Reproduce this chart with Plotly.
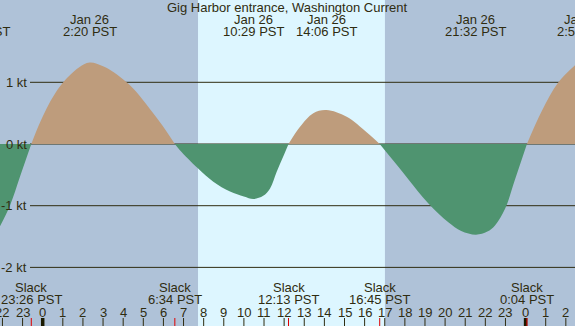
import plotly.graph_objects as go

# ---------------- data ----------------
TITLE = "Gig Harbor entrance, Washington Current"
# hours relative to Jan 26 00:00 PST, current speed in knots (+ flood, - ebb)
times = [-2.15, -1.63, -1.13, -0.567,
         -0.2, 0.2, 0.6, 1.02, 1.4, 1.8, 2.333, 3.0, 3.55, 4.17, 4.67, 5.3, 5.95, 6.567,
         6.82, 7.7, 8.48, 9.31, 10.0, 10.483, 10.96, 11.3, 11.63, 11.96, 12.217,
         12.79, 13.45, 14.1, 15.11, 16.1, 16.75,
         17.35, 18.17, 19.16, 20.16, 20.8, 21.533, 22.1, 22.48, 22.98, 23.47, 24.067,
         24.8, 25.63, 26.5]
speeds = [-1.35, -1.0, -0.53, 0.0,
          0.30, 0.58, 0.81, 1.0, 1.13, 1.24, 1.32, 1.26, 1.16, 1.0, 0.84, 0.58, 0.30, 0.0,
          -0.1, -0.39, -0.61, -0.77, -0.85, -0.89, -0.84, -0.72, -0.45, -0.2, 0.0,
          0.28, 0.50, 0.55, 0.44, 0.19, 0.0,
          -0.24, -0.57, -0.96, -1.27, -1.41, -1.47, -1.42, -1.32, -1.05, -0.58, 0.0,
          0.53, 1.0, 1.29]

# extreme-current labels (time in hours, date text, time text)
max_times = [-3.12, 2.333, 10.483, 14.1, 21.533, 26.9]
max_dates = ["Jan 25", "Jan 26", "Jan 26", "Jan 26", "Jan 26", "Jan 27"]
max_texts = ["20:53 PST", "2:20 PST", "10:29 PST", "14:06 PST", "21:32 PST", "2:54 PST"]

slack_times = [-0.567, 6.567, 12.217, 16.75, 24.067]
slack_texts = ["23:26 PST", "6:34 PST", "12:13 PST", "16:45 PST", "0:04 PST"]

sunrise_sunset = [7.72, 17.01]
midnights = [0, 24]
hours = list(range(-2, 27))
ytick_vals = [1, 0, -1, -2]
ytick_text = ["1 kt", "0 kt", "-1 kt", "-2 kt"]

# ---------------- style ----------------
W, H = 575, 326
XMIN, XMAX = -2.122, 26.456
YMIN, YMAX = -2.950, 2.334
NIGHT = "#AFC2D8"
DAY = "#DDF6FF"
FLOOD = "#BE9C7C"
EBB = "#4F9470"
INK = "#2f2c10"
FONT = "Liberation Sans, Arial, sans-serif"

def px2paper_x(px):
    return px / W

def px2paper_y(py):  # py measured from top
    return 1 - py / H

def t2paper(t):
    return (t - XMIN) / (XMAX - XMIN)

fig = go.Figure()

# split curve into flood/ebb segments at slack points
segments = []
cur_t, cur_v, cur_sign = [], [], 0
for t, v in zip(times, speeds):
    s = (v > 0) - (v < 0)
    if s == 0:
        cur_t.append(t); cur_v.append(v)
        segments.append((cur_sign, cur_t, cur_v))
        cur_t, cur_v, cur_sign = [t], [v], 0
    else:
        if cur_sign == 0:
            cur_sign = s
        cur_t.append(t); cur_v.append(v)
if len(cur_t) > 1:
    segments.append((cur_sign, cur_t, cur_v))

for sign, st, sv in segments:
    if sign == 0 or len(st) < 2:
        continue
    col = FLOOD if sign > 0 else EBB
    fig.add_trace(go.Scatter(x=st, y=sv, mode="lines", fill="tozeroy", fillcolor=col,
                             line=dict(width=0, color=col, shape="spline", smoothing=1.0),
                             hoverinfo="skip", showlegend=False))

shapes = []
# daylight
shapes.append(dict(type="rect", xref="x", yref="paper", x0=sunrise_sunset[0], x1=sunrise_sunset[1],
                   y0=0, y1=1, fillcolor=DAY, line=dict(width=0), layer="below"))
# horizontal grid lines
for v in ytick_vals:
    shapes.append(dict(type="line", xref="paper", yref="y", x0=px2paper_x(30), x1=1, y0=v, y1=v,
                       line=dict(color=INK, width=1), layer="below"))
# hour ticks
tick_top = 8 / H
for h in hours:
    shapes.append(dict(type="line", xref="x", yref="paper", x0=h, x1=h, y0=0, y1=tick_top,
                       line=dict(color=INK, width=1)))
for m in midnights:
    shapes.append(dict(type="line", xref="x", yref="paper", x0=m, x1=m, y0=0, y1=tick_top,
                       line=dict(color="#1a1a00", width=3.5)))
for s in slack_times:
    shapes.append(dict(type="line", xref="x", yref="paper", x0=s, x1=s, y0=0, y1=tick_top,
                       line=dict(color="#e00000", width=1)))

ann = []
fnt = dict(family=FONT, size=13, color=INK)
ann.append(dict(text=TITLE, xref="paper", yref="paper", x=0.5, y=px2paper_y(7.5),
                xanchor="center", yanchor="middle", showarrow=False, font=fnt))
for t, d, tx in zip(max_times, max_dates, max_texts):
    ann.append(dict(text=d, xref="paper", yref="paper", x=t2paper(t), y=px2paper_y(20),
                    xanchor="center", yanchor="middle", showarrow=False, font=fnt))
    ann.append(dict(text=tx, xref="paper", yref="paper", x=t2paper(t), y=px2paper_y(31.5),
                    xanchor="center", yanchor="middle", showarrow=False, font=fnt))
for t, tx in zip(slack_times, slack_texts):
    ann.append(dict(text="Slack", xref="paper", yref="paper", x=t2paper(t), y=px2paper_y(287.5),
                    xanchor="center", yanchor="middle", showarrow=False, font=fnt))
    ann.append(dict(text=tx, xref="paper", yref="paper", x=t2paper(t), y=px2paper_y(299.5),
                    xanchor="center", yanchor="middle", showarrow=False, font=fnt))
for h in hours:
    ann.append(dict(text=str(h % 24), xref="paper", yref="paper", x=t2paper(h), y=px2paper_y(312),
                    xanchor="center", yanchor="middle", showarrow=False, font=fnt))
for v, tx in zip(ytick_vals, ytick_text):
    ann.append(dict(text=tx, xref="paper", yref="y", x=px2paper_x(28.5), y=v,
                    xanchor="right", yanchor="middle", showarrow=False, font=fnt))

fig.update_layout(
    width=W, height=H, margin=dict(l=0, r=0, t=0, b=0),
    paper_bgcolor=NIGHT, plot_bgcolor=NIGHT,
    xaxis=dict(range=[XMIN, XMAX], visible=False, fixedrange=True),
    yaxis=dict(range=[YMIN, YMAX], visible=False, fixedrange=True),
    shapes=shapes, annotations=ann, showlegend=False,
)
fig.write_html("out.html", config={"displayModeBar": False})

# remove the browser's default page margin so the chart sits at the top-left corner
with open("out.html", "r", encoding="utf-8") as f:
    html = f.read()
html = html.replace("<head>", "<head><style>html,body{margin:0;padding:0;overflow:hidden;}</style>", 1)
with open("out.html", "w", encoding="utf-8") as f:
    f.write(html)
